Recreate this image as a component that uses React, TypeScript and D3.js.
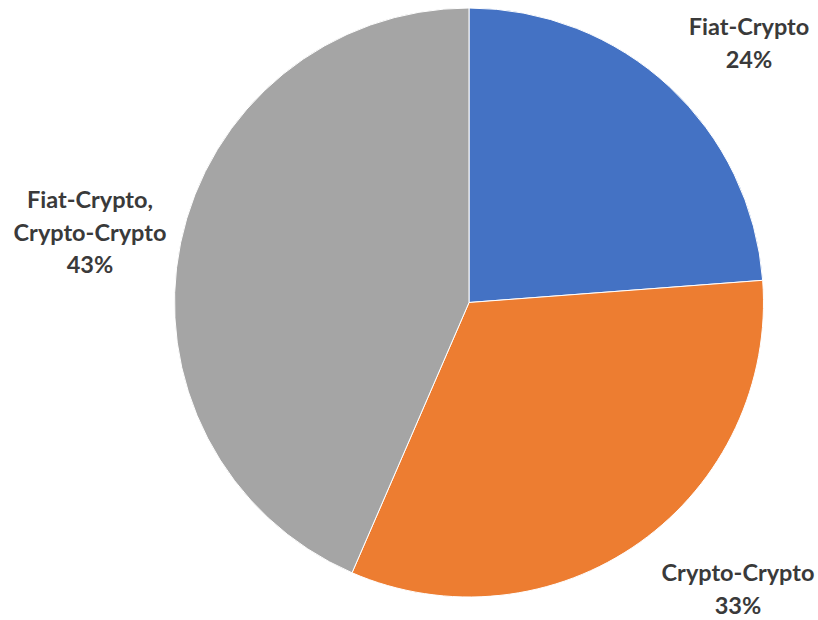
import { useEffect, useRef } from "react";
import * as d3 from "d3";

// slice values (share of total)
const categories = ["Fiat-Crypto", "Crypto-Crypto", "Fiat-Crypto, Crypto-Crypto"];
const values = [23.8, 32.7, 43.5];
const percentLabels = ["24%", "33%", "43%"];
const colors = ["#4472C4", "#ED7D31", "#A5A5A5"];

// label lines (Excel wraps the long one)
const labelLines = [["Fiat-Crypto"], ["Crypto-Crypto"], ["Fiat-Crypto,", "Crypto-Crypto"]];

export default function App() {
  const svgRef = useRef<SVGSVGElement>(null);

  useEffect(() => {
    if (!svgRef.current) return;

    const width = 818;
    const height = 620;
    const cx = 469;
    const cy = 302.5;
    const radius = 294.5;

    const svg = d3.select(svgRef.current);
    svg.selectAll("*").remove();

    const g = svg.append("g").attr("transform", `translate(${cx},${cy})`);

    const pie = d3.pie<number>().sort(null).value((d) => d);
    const arcs = pie(values);
    const arc = d3.arc<d3.PieArcDatum<number>>().innerRadius(0).outerRadius(radius);

    g.selectAll("path")
      .data(arcs)
      .enter()
      .append("path")
      .attr("d", arc as any)
      .attr("fill", (_, i) => colors[i])
      .attr("stroke", "#fff")
      .attr("stroke-width", 1);

    // label anchor points (center x, first baseline), placed like Excel's best fit
    const labelPos = [
      [749, 35],
      [738, 581],
      [90, 208],
    ];
    const lineH = 32.5;

    categories.forEach((_, i) => {
      const lines = [...labelLines[i], percentLabels[i]];
      const t = svg
        .append("text")
        .attr("text-anchor", "middle")
        .attr("font-family", "Lato, 'Open Sans', sans-serif")
        .attr("font-weight", "bold")
        .attr("font-size", 23.5)
        .attr("fill", "#3a3a3a");
      lines.forEach((l, j) => {
        t.append("tspan")
          .attr("x", labelPos[i][0])
          .attr("y", labelPos[i][1] + j * lineH)
          .text(l);
      });
    });

    svg.attr("width", width).attr("height", height);
  }, []);

  return (
    <div style={{ position: "absolute", left: 0, top: 0 }}>
      <svg ref={svgRef} width={818} height={620} style={{ display: "block" }} />
    </div>
  );
}
